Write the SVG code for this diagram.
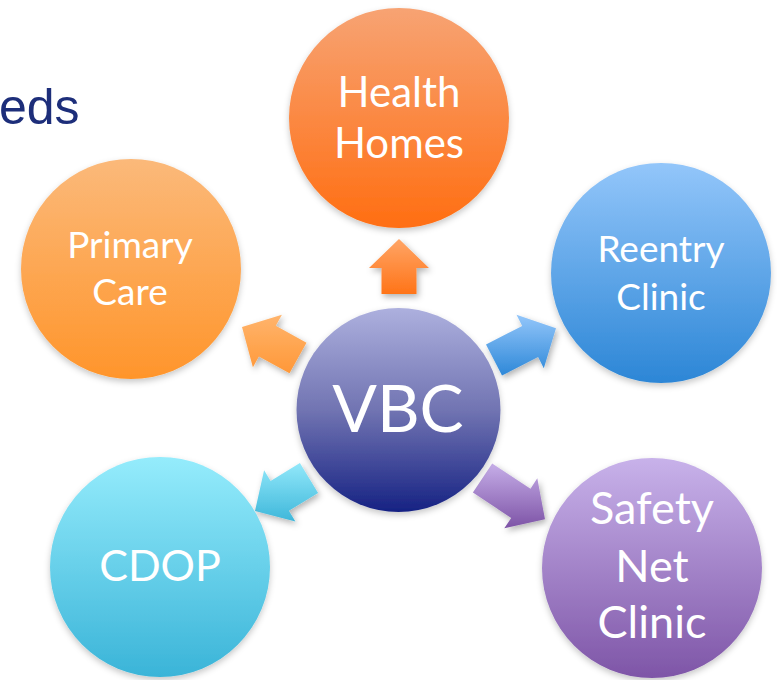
<svg xmlns="http://www.w3.org/2000/svg" width="777" height="680" viewBox="0 0 777 680">
<defs>
<linearGradient id="gHH" x1="0" y1="0" x2="0" y2="1"><stop offset="0" stop-color="#F7A373"/><stop offset="1" stop-color="#FF6E12"/></linearGradient>
<linearGradient id="gPC" x1="0" y1="0" x2="0" y2="1"><stop offset="0" stop-color="#FBB97A"/><stop offset="1" stop-color="#FF952B"/></linearGradient>
<linearGradient id="gRC" x1="0" y1="0" x2="0" y2="1"><stop offset="0" stop-color="#93C6FA"/><stop offset="1" stop-color="#2C86D6"/></linearGradient>
<linearGradient id="gVBC" x1="0" y1="0" x2="0" y2="1"><stop offset="0" stop-color="#ADB0DE"/><stop offset="0.5" stop-color="#7174B2"/><stop offset="1" stop-color="#162283"/></linearGradient>
<linearGradient id="gCD" x1="0" y1="0" x2="0" y2="1"><stop offset="0" stop-color="#95ECFC"/><stop offset="1" stop-color="#3AB4D8"/></linearGradient>
<linearGradient id="gSN" x1="0" y1="0" x2="0" y2="1"><stop offset="0" stop-color="#C8B2EA"/><stop offset="1" stop-color="#7E55A7"/></linearGradient>
<linearGradient id="aHH" x1="0" y1="0" x2="0" y2="1"><stop offset="0" stop-color="#FFA566"/><stop offset="1" stop-color="#FF7418"/></linearGradient>
<linearGradient id="aPC" x1="0" y1="0" x2="0" y2="1"><stop offset="0" stop-color="#FFB46C"/><stop offset="1" stop-color="#FF9838"/></linearGradient>
<linearGradient id="aRC" x1="0" y1="0" x2="0" y2="1"><stop offset="0" stop-color="#93C6FA"/><stop offset="1" stop-color="#2E88D8"/></linearGradient>
<linearGradient id="aCD" x1="0" y1="0" x2="0" y2="1"><stop offset="0" stop-color="#92E8FA"/><stop offset="1" stop-color="#3EB7DA"/></linearGradient>
<linearGradient id="aSN" x1="0" y1="0" x2="0" y2="1"><stop offset="0" stop-color="#C6AEE8"/><stop offset="1" stop-color="#7D53A6"/></linearGradient>
<filter id="sh" x="-20%" y="-20%" width="150%" height="150%"><feDropShadow dx="2" dy="3" stdDeviation="3" flood-color="#000" flood-opacity="0.3"/></filter>
<filter id="shc" x="-10%" y="-10%" width="120%" height="125%"><feDropShadow dx="0" dy="3" stdDeviation="3" flood-color="#000" flood-opacity="0.22"/></filter>
</defs>
<style>
.lbl{font-family:Lato,"Open Sans","Liberation Sans",sans-serif;fill:#fff;text-anchor:middle}
.arrow{filter:url(#sh)}
.node circle{filter:url(#shc)}
</style>
<rect width="777" height="680" fill="#fff"/>
<text x="-1" y="124" font-family="'Liberation Sans',Arial,sans-serif" font-size="50" fill="#1D2E7A">eds</text>
<g id="connectors">
<polygon class="arrow" fill="url(#aHH)" points="381.5,294 381.5,268 369,268 399,239 429,268 416.5,268 416.5,294"/>
<polygon class="arrow" fill="url(#aPC)" points="306.5,342.7 275.8,325.8 281.9,314.8 242,327 252.9,367.3 258.9,356.4 289.5,373.3"/>
<polygon class="arrow" fill="url(#aRC)" points="502,375.6 538.1,357.1 543.8,368.2 556,328.3 516.5,314.8 522.2,325.9 486,344.4"/>
<polygon class="arrow" fill="url(#aCD)" points="299.9,463.1 270.6,481 264.1,470.3 255,511 295.4,521.5 288.9,510.8 318.1,492.9"/>
<polygon class="arrow" fill="url(#aSN)" points="472.9,492.6 511.2,517.9 504.3,528.3 545,519.3 537.3,478.3 530.5,488.7 492.2,463.4"/>
</g>
<g id="health-homes" class="node">
<circle cx="399" cy="118" r="110" fill="url(#gHH)"/>
<text class="lbl" x="399" y="107" font-size="42">Health</text>
<text class="lbl" x="399" y="158" font-size="42">Homes</text>
</g>
<g id="primary-care" class="node">
<circle cx="131" cy="269" r="110" fill="url(#gPC)"/>
<text class="lbl" x="130" y="258" font-size="37">Primary</text>
<text class="lbl" x="130" y="305" font-size="37">Care</text>
</g>
<g id="reentry-clinic" class="node">
<circle cx="661" cy="273" r="110" fill="url(#gRC)"/>
<text class="lbl" x="661" y="262" font-size="37">Reentry</text>
<text class="lbl" x="661" y="310" font-size="37">Clinic</text>
</g>
<g id="vbc" class="node">
<circle cx="398.5" cy="410" r="102" fill="url(#gVBC)"/>
<text class="lbl" x="398" y="432" font-size="66">VBC</text>
</g>
<g id="cdop" class="node">
<circle cx="160" cy="567" r="110" fill="url(#gCD)"/>
<text class="lbl" x="160" y="581" font-size="43">CDOP</text>
</g>
<g id="safety-net-clinic" class="node">
<circle cx="652" cy="568" r="110" fill="url(#gSN)"/>
<text class="lbl" x="652" y="524" font-size="45">Safety</text>
<text class="lbl" x="652" y="582" font-size="45">Net</text>
<text class="lbl" x="652" y="638" font-size="45">Clinic</text>
</g>
</svg>
